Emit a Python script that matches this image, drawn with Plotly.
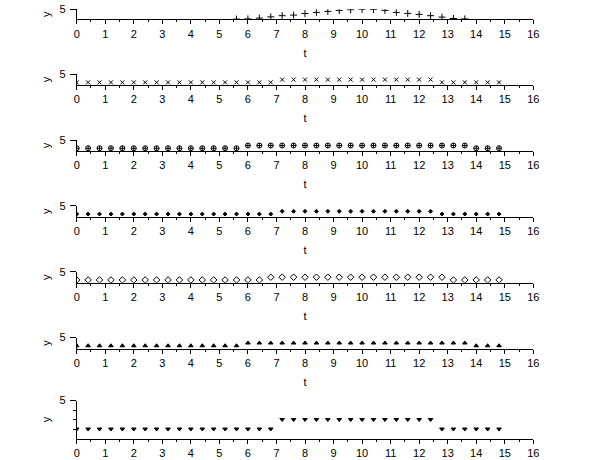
import plotly.graph_objects as go

t = [round(0.4 * i, 1) for i in range(38)]  # 0.0 .. 14.8

# Row 1: bump (values only where visible)
bump_t = [5.6, 6.0, 6.4, 6.8, 7.2, 7.6, 8.0, 8.4, 8.8, 9.2, 9.6, 10.0,
          10.4, 10.8, 11.2, 11.6, 12.0, 12.4, 12.8, 13.2, 13.6]
bump_y = [0.1, 0.2, 0.6, 1.2, 1.8, 2.1, 2.9, 3.45, 3.95, 4.45, 4.8, 4.95,
          4.9, 4.45, 3.45, 2.95, 2.45, 1.8, 1.1, 0.4, 0.2]

LOW, HIGH = 1.25, 2.5
def step(n_low1, n_high):
    return [LOW] * n_low1 + [HIGH] * n_high + [LOW] * (38 - n_low1 - n_high)

y_x = step(18, 14)        # low 0..6.8, high 7.2..12.4
y_oplus = step(15, 20)    # low 0..5.6, high 6.0..13.2
y_dot = step(18, 14)
y_diamond = step(17, 16)  # low 0..6.4, high 6.8..12.8
y_triup = step(15, 20)
y_tridown = step(18, 14)

series = [
    (bump_t, bump_y, "cross-thin", 5),
    (t, y_x, "x-thin", 4),
    (t, y_oplus, "circle-cross-open", 5),
    (t, y_dot, "diamond", 3),
    (t, y_diamond, "diamond-open", 5),
    (t, y_triup, "triangle-up", 4),
    (t, y_tridown, "triangle-down", 4),
]

H = 460.0
# (top_px, bottom_px) of each axes box
boxes = [(9.3, 19.3), (74.1, 85.1), (140.0, 151.0), (205.8, 216.8),
         (271.7, 282.7), (337.5, 348.5), (400.5, 438.5)]
xdom = [76.7 / 610, 533.3 / 610]

font = dict(family="Liberation Sans, Arial, sans-serif", size=11, color="black")
fig = go.Figure()
layout = dict(width=610, height=460, margin=dict(l=0, r=0, t=0, b=0),
              paper_bgcolor="white", plot_bgcolor="white", showlegend=False,
              font=font, template="none")

for k, ((xs, ys, sym, sz), (top, bot)) in enumerate(zip(series, boxes), start=1):
    sfx = "" if k == 1 else str(k)
    fig.add_trace(go.Scatter(
        x=xs, y=ys, mode="markers", xaxis="x" + sfx, yaxis="y" + sfx,
        marker=dict(symbol=sym, size=sz, color="black",
                    line=dict(color="black", width=1)),
        cliponaxis=True))
    xdict = dict(
        domain=xdom, anchor="y" + sfx, range=[0, 16], tick0=0, dtick=1,
        automargin=False,
        showline=True, linecolor="black", linewidth=1, showgrid=False,
        zeroline=False, ticks="outside", ticklen=4, tickcolor="black",
        tickfont=font, ticklabelstandoff=0,
        minor=dict(dtick=0.5, ticks="outside", ticklen=2, tickcolor="black",
                   showgrid=False))
    if k < 7:  # the last panel's "t" falls below the visible page
        xdict["title"] = dict(text="t", font=font, standoff=10)
    layout["xaxis" + sfx] = xdict
    ydict = dict(
        domain=[1 - bot / H, 1 - top / H], anchor="x" + sfx, range=[0, 5],
        automargin=False,
        tickvals=[5], ticktext=["5"], showline=True, linecolor="black",
        linewidth=1, showgrid=False, zeroline=False, ticks="outside",
        ticklen=6, tickcolor="black", tickfont=font, ticklabelstandoff=2,
        title=dict(text="y", font=font, standoff=6))
    if k == 7:
        ydict["minor"] = dict(tickvals=[1.25, 2.5, 3.75], ticks="outside",
                              ticklen=3, tickcolor="black", showgrid=False)
    layout["yaxis" + sfx] = ydict

fig.update_layout(**layout)
fig.write_html("out.html")
